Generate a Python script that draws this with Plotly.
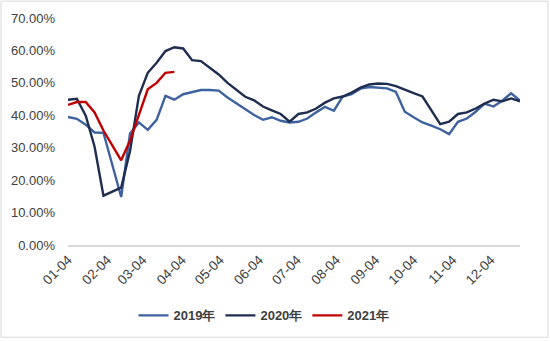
import pandas as pd
import plotly.graph_objects as go

# weekly observation dates (month-day); year only used to place points on a date axis
dates = pd.date_range("2021-01-04", periods=52, freq="7D")

s2019 = [39.5, 38.9, 37.1, 34.7, 34.6, 24.7, 14.8, 34.4, 37.8, 35.5, 38.6, 46.0,
         44.8, 46.5, 47.1, 47.8, 47.8, 47.6, 45.5, 43.7, 41.9, 40.1, 38.6, 39.4,
         38.3, 37.8, 38.0, 39.0, 40.9, 42.6, 41.4, 45.8, 46.5, 48.2, 48.7, 48.5,
         48.3, 47.2, 41.1, 39.4, 37.8, 36.8, 35.7, 34.2, 38.0, 39.0, 41.1, 43.6,
         42.7, 44.5, 46.8, 44.5]
s2020 = [44.8, 45.1, 39.9, 30.3, 15.2, 16.4, 17.7, 29.0, 46.0, 53.1, 56.2, 59.8,
         61.0, 60.6, 57.0, 56.7, 54.6, 52.6, 50.0, 47.7, 45.7, 44.6, 42.7, 41.5,
         40.4, 38.0, 40.4, 40.9, 42.1, 43.9, 45.2, 45.8, 47.0, 48.5, 49.5, 49.8,
         49.7, 49.0, 47.8, 46.8, 45.8, 41.4, 37.3, 38.0, 40.4, 40.9, 42.1, 43.6,
         44.8, 44.3, 45.2, 44.3]
s2021 = [43.2, 44.1, 44.1, 40.9, 35.3, 30.7, 26.1, 32.2, 40.4, 48.0, 50.0, 53.1,
         53.4]

series_names = ["2019年", "2020年", "2021年"]
series_values = [s2019, s2020, s2021]
series_colors = ["#3E62A0", "#1F2D50", "#C00000"]

tick_dates = ["2021-01-04", "2021-02-04", "2021-03-04", "2021-04-04", "2021-05-04",
              "2021-06-04", "2021-07-04", "2021-08-04", "2021-09-04", "2021-10-04",
              "2021-11-04", "2021-12-04"]
tick_labels = ["01-04", "02-04", "03-04", "04-04", "05-04", "06-04", "07-04",
               "08-04", "09-04", "10-04", "11-04", "12-04"]
y_ticks = [0, 10, 20, 30, 40, 50, 60, 70]
y_labels = ["0.00%", "10.00%", "20.00%", "30.00%", "40.00%", "50.00%", "60.00%", "70.00%"]

fig = go.Figure()
for name, vals, col in zip(series_names, series_values, series_colors):
    fig.add_trace(go.Scatter(
        x=dates[:len(vals)], y=vals, mode="lines", name="<b>" + name + "</b>",
        line=dict(color=col, width=2.4),
    ))

W, H = 550, 342
L, R, T, B = 68, 30, 18, 95
pw, ph = W - L - R, H - T - B

fig.update_layout(
    width=W, height=H,
    margin=dict(l=L, r=R, t=T, b=B),
    paper_bgcolor="white", plot_bgcolor="white",
    font=dict(family="Liberation Sans, Arial, sans-serif", size=12, color="#404040"),
    showlegend=True,
    legend=dict(
        orientation="h", x=(264 - L) / pw, xanchor="center",
        y=(H - B - 318) / ph, yanchor="middle",
        font=dict(size=13, color="#404040", family="Liberation Sans, Arial, sans-serif"),
        itemwidth=30, bgcolor="rgba(0,0,0,0)",
    ),
    xaxis=dict(
        type="date",
        range=[dates[0], dates[-1]],
        tickvals=tick_dates, ticktext=tick_labels, tickangle=-45,
        showgrid=False, zeroline=False,
        showline=True, linecolor="#D9D9D9", linewidth=1.5,
        ticks="", tickfont=dict(size=13.5, color="#404040"),
    ),
    yaxis=dict(
        range=[0, 70], tickvals=y_ticks, ticktext=y_labels,
        showgrid=False, zeroline=False, showline=False, ticks="",
        ticklabelstandoff=12, tickfont=dict(size=13, color="#404040"),
    ),
)

# chart-area border
fig.add_shape(
    type="rect", xref="paper", yref="paper",
    x0=(1 - L) / pw, x1=(W - 2 - L) / pw,
    y0=(H - B - (H - 2)) / ph, y1=(H - B - 1) / ph,
    line=dict(color="#D9D9D9", width=1), fillcolor="rgba(0,0,0,0)", layer="below",
)

fig.write_html("out.html")
